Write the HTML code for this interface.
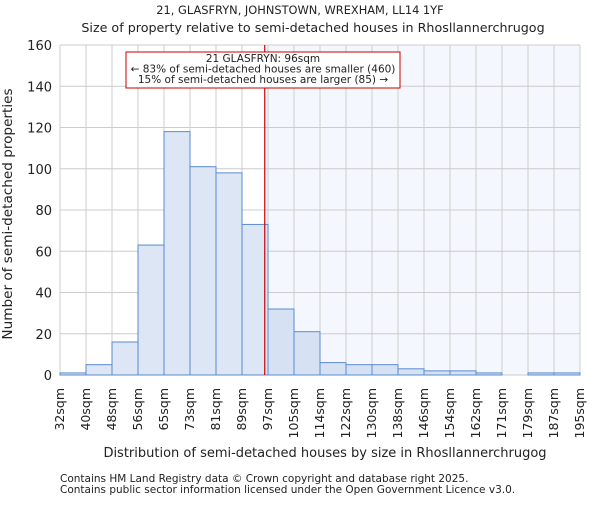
<!DOCTYPE html>
<html><head><meta charset="utf-8"><style>
body{margin:0;background:#fff;}
svg text{font-family:"DejaVu Sans","Liberation Sans",sans-serif;fill:#222;}
</style></head><body>
<svg id="chart" width="600" height="500">
<text x="300" y="14" text-anchor="middle" font-size="11.4">21, GLASFRYN, JOHNSTOWN, WREXHAM, LL14 1YF</text>
<text x="313" y="32" text-anchor="middle" font-size="12.7">Size of property relative to semi-detached houses in Rhosllannerchrugog</text>
<g id="grid"></g>
<g id="bars"></g>
<g id="axes"></g>
<text x="325" y="457" text-anchor="middle" font-size="13">Distribution of semi-detached houses by size in Rhosllannerchrugog</text>
<text transform="translate(12,214) rotate(-90)" text-anchor="middle" font-size="13.6">Number of semi-detached properties</text>
<text x="60" y="482" font-size="10.5" fill="#444">Contains HM Land Registry data © Crown copyright and database right 2025.</text>
<text x="60" y="493" font-size="10.5" fill="#444">Contains public sector information licensed under the Open Government Licence v3.0.</text>
</svg>
<script>
const categories=["32sqm","40sqm","48sqm","56sqm","65sqm","73sqm","81sqm","89sqm","97sqm","105sqm","114sqm","122sqm","130sqm","138sqm","146sqm","154sqm","162sqm","171sqm","179sqm","187sqm","195sqm"];
const counts=[1,5,16,63,118,101,98,73,32,21,6,5,5,3,2,2,1,0,1,1];
const yTicks=[0,20,40,60,80,100,120,140,160];
const markerValue=96;
const annotationLines=["21 GLASFRYN: 96sqm","← 83% of semi-detached houses are smaller (460)","15% of semi-detached houses are larger (85) →"];
const X0=60,X1=580,Y0=375,Y1=45,ns="http://www.w3.org/2000/svg";
const bw=(X1-X0)/counts.length;
const y=v=>Y0-(v/160)*(Y0-Y1);
const xi=i=>X0+i*bw;
const edges=categories.map(c=>parseFloat(c));
function xv(v){for(let i=0;i<edges.length-1;i++){if(v>=edges[i]&&v<=edges[i+1])return xi(i)+(v-edges[i])/(edges[i+1]-edges[i])*bw;}return X1;}
function mk(t,a,p){const e=document.createElementNS(ns,t);for(const k in a)e.setAttribute(k,a[k]);p.appendChild(e);return e;}
const grid=document.getElementById('grid'),bars=document.getElementById('bars'),axes=document.getElementById('axes');
const mx=xv(markerValue);
const sh=mk('rect',{x:mx,y:Y1,width:X1-mx,height:Y0-Y1,fill:'#f4f7fd'},grid);


yTicks.forEach(t=>{
 const l=mk('line',{x1:X0,x2:X1,y1:y(t),y2:y(t),stroke:'#ccc','stroke-width':1},grid);
 
 
 const tx=mk('text',{x:X0-8,y:y(t)+5,'text-anchor':'end','font-size':13},axes);
 tx.textContent=t;
 
 
});
categories.forEach((c,i)=>{
 const x=xi(i);
 const l=mk('line',{x1:x,x2:x,y1:Y1,y2:Y0,stroke:'#ccc','stroke-width':1},grid);
 
 
 const tx=mk('text',{transform:`translate(${x+4},388) rotate(-90)`,'text-anchor':'end','font-size':12.5},axes);
 tx.textContent=c;
 
 
});
counts.forEach((v,i)=>{
 if(v<=0)return;
 const r=mk('rect',{x:xi(i),y:y(v),width:bw,height:Y0-y(v),fill:xi(i)>=mx?'#d6e2f3':'#dce6f5',stroke:'#5a8ad0','stroke-width':1},bars);
 
 
});
const ml=mk('line',{x1:mx,x2:mx,y1:Y1,y2:Y0,stroke:'#cc0000','stroke-width':1.2},bars);


const box=mk('rect',{x:126,y:52,width:274,height:36,fill:'#fff',stroke:'#cc0000','stroke-width':1},bars);


annotationLines.forEach((s,i)=>{
 const t=mk('text',{x:263,y:62+i*10.5,'text-anchor':'middle','font-size':10.5},bars);
 t.textContent=s;
 
 
});
</script>
</body></html>
